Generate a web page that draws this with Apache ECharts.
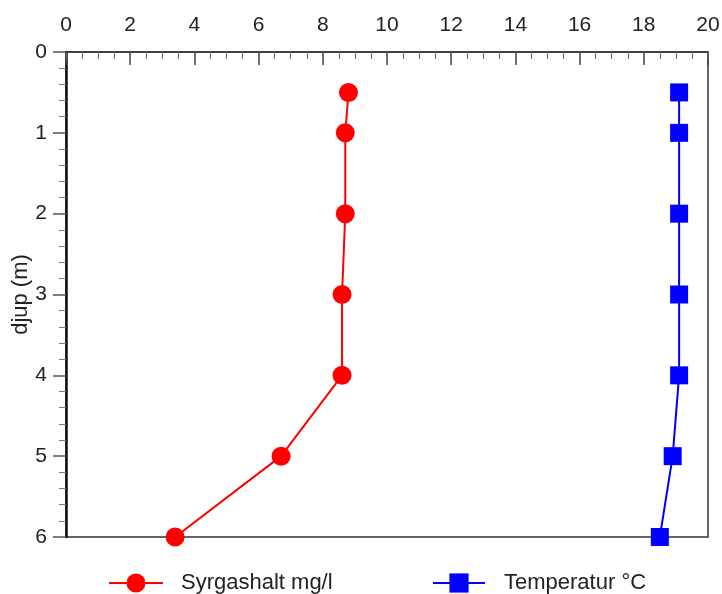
<!DOCTYPE html>
<html>
<head>
<meta charset="utf-8">
<script src="https://cdn.jsdelivr.net/npm/echarts@6/dist/echarts.min.js"></script>
<style>
  html, body { margin: 0; padding: 0; background: #fff; }
  #chart { width: 722px; height: 594px; }
</style>
</head>
<body>
<div id="chart"></div>
<script>
// Depth profile: dissolved oxygen and water temperature against depth
const depths = [0.5, 1, 2, 3, 4, 5, 6];
const oxygen = [8.8, 8.7, 8.7, 8.6, 8.6, 6.7, 3.4];
const temperature = [19.1, 19.1, 19.1, 19.1, 19.1, 18.9, 18.5];
const oxygenName = 'Syrgashalt mg/l';
const temperatureName = 'Temperatur °C';
const depthName = 'djup (m)';

const FONT = '"Liberation Sans", Arial, sans-serif';

const chart = echarts.init(document.getElementById('chart'), null, { renderer: 'canvas' });

chart.setOption({
  backgroundColor: '#fff',
  animation: false,
  grid: {
    left: 66, top: 52, right: 14, bottom: 57,
    outerBoundsMode: 'none',
    show: true, borderColor: '#333', borderWidth: 1.5, backgroundColor: 'transparent'
  },
  legend: [
    {
      data: [oxygenName], left: 103, top: 567,
      itemWidth: 54, itemHeight: 24, itemGap: 0,
      textStyle: { fontFamily: FONT, fontSize: 22, color: '#222', padding: [0, 0, 0, 13] }
    },
    {
      data: [temperatureName], left: 427, top: 567,
      itemWidth: 52, itemHeight: 24, itemGap: 0,
      textStyle: { fontFamily: FONT, fontSize: 22, color: '#222', padding: [0, 0, 0, 14] }
    }
  ],
  xAxis: [
    {
      // main value axis along the top
      type: 'value', position: 'top', min: 0, max: 20, interval: 2,
      axisLine: { show: true, onZero: false, lineStyle: { color: '#333', width: 1.5 } },
      axisTick: { show: true, inside: true, length: 13, lineStyle: { color: '#444', width: 1.5 } },
      splitLine: { show: false },
      axisLabel: { fontFamily: FONT, fontSize: 21, color: '#222', margin: 16 }
    },
    {
      // short inward ticks every 0.5
      type: 'value', position: 'top', min: 0, max: 20, interval: 0.5,
      axisLine: { show: false },
      axisTick: { show: true, inside: true, length: 7, lineStyle: { color: '#666', width: 1 } },
      splitLine: { show: false },
      axisLabel: { show: false }
    }
  ],
  yAxis: {
    type: 'value', inverse: true, min: 0, max: 6, interval: 1,
    name: depthName, nameLocation: 'middle', nameGap: 34, nameRotate: 90,
    nameMoveOverlap: false,
    nameTextStyle: { fontFamily: FONT, fontSize: 22, color: '#222' },
    axisLine: { show: true, onZero: false, lineStyle: { color: '#111', width: 2.5 } },
    axisTick: { show: true, inside: false, length: 13, lineStyle: { color: '#555', width: 1.5 } },
    minorTick: { show: true, splitNumber: 5, length: 7, lineStyle: { color: '#777', width: 1 } },
    splitLine: { show: false },
    axisLabel: { fontFamily: FONT, fontSize: 21, color: '#222', margin: 19 }
  },
  series: [
    {
      name: oxygenName, type: 'line', xAxisIndex: 0,
      data: depths.map((d, i) => [oxygen[i], d]),
      symbol: 'circle', symbolSize: 19,
      lineStyle: { color: '#ff0000', width: 2 },
      itemStyle: { color: '#ff0000' },
      clip: false
    },
    {
      name: temperatureName, type: 'line', xAxisIndex: 0,
      data: depths.map((d, i) => [temperature[i], d]),
      symbol: 'rect', symbolSize: 18,
      lineStyle: { color: '#0000ff', width: 2 },
      itemStyle: { color: '#0000ff' },
      clip: false
    }
  ]
});
</script>
</body>
</html>
